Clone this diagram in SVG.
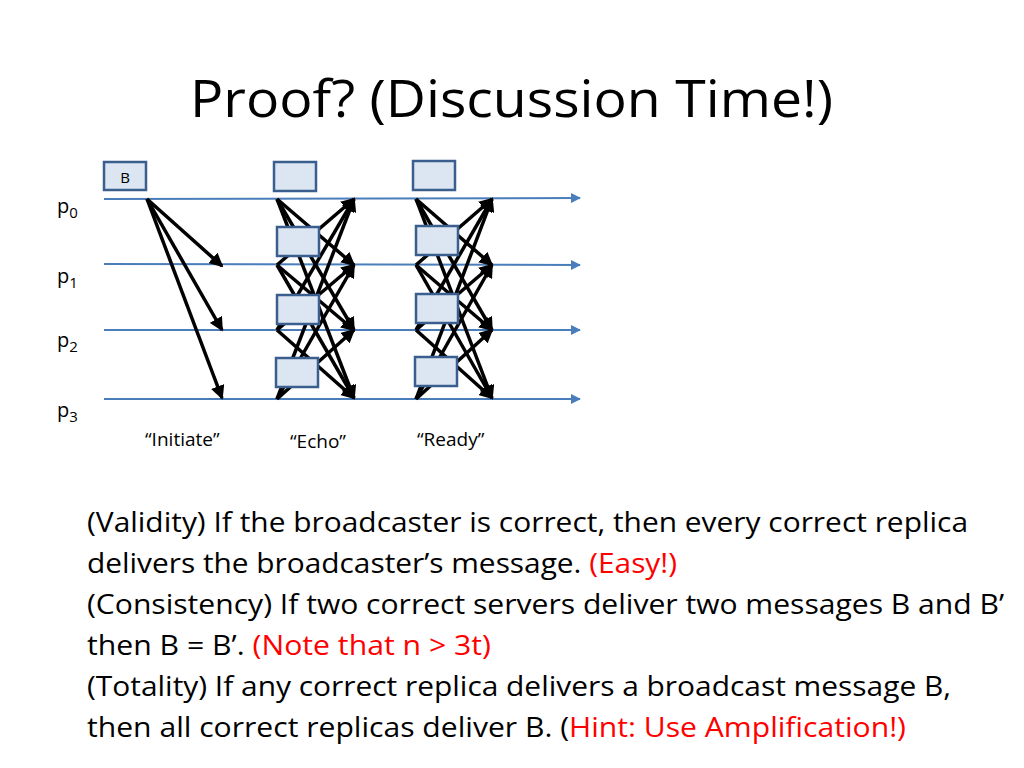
<svg xmlns="http://www.w3.org/2000/svg" width="1024" height="768" viewBox="0 0 1024 768">
<defs>
<marker id="ab" markerWidth="5" markerHeight="5" refX="4.5" refY="2.5" orient="auto" markerUnits="strokeWidth"><path d="M0,0 L5,2.5 L0,5 z" fill="#4a7ebb"/></marker>
<marker id="ak" markerWidth="4" markerHeight="4" refX="3.5" refY="2" orient="auto" markerUnits="strokeWidth"><path d="M0,0 L4,2 L0,4 z" fill="#000"/></marker>
</defs>
<style>
.t{font-family:"Open Sans","Liberation Sans",sans-serif}
.tl{stroke:#4a7ebb;stroke-width:2;marker-end:url(#ab)}
.m{stroke:#000;stroke-width:3.5;marker-end:url(#ak)}
.bx{fill:#dce6f2;stroke:#3a5f8f;stroke-width:2.5}
.b{font-family:"Open Sans","Liberation Sans",sans-serif;font-size:27px;fill:#000}
.r{fill:#ff0000}
</style>
<rect width="1024" height="768" fill="#fff"/>
<text class="t" x="190" y="117" font-size="52" textLength="643" lengthAdjust="spacingAndGlyphs">Proof? (Discussion Time!)</text>
<g id="labels" class="t" font-size="20">
<text x="57" y="213">p<tspan font-size="15" dy="5">0</tspan></text>
<text x="57" y="283">p<tspan font-size="15" dy="5">1</tspan></text>
<text x="57" y="347">p<tspan font-size="15" dy="5">2</tspan></text>
<text x="57" y="417">p<tspan font-size="15" dy="5">3</tspan></text>
<text x="145" y="446" font-size="19">“Initiate”</text>
<text x="290" y="448" font-size="19">“Echo”</text>
<text x="417" y="446" font-size="19">“Ready”</text>
</g>
<g id="timelines">
<line class="tl" x1="104" y1="199" x2="580" y2="198"/>
<line class="tl" x1="104" y1="264" x2="580" y2="265"/>
<line class="tl" x1="104" y1="330" x2="580" y2="330"/>
<line class="tl" x1="104" y1="399" x2="580" y2="399"/>
</g>
<g id="connectors">
<line class="m" x1="147" y1="199" x2="222" y2="266"/>
<line class="m" x1="147" y1="199" x2="222" y2="330"/>
<line class="m" x1="147" y1="199" x2="222" y2="398"/>
<g id="echo-msgs">
<line class="m" x1="277" y1="199" x2="354" y2="265"/><line class="m" x1="277" y1="199" x2="354" y2="330"/><line class="m" x1="277" y1="199" x2="354" y2="398"/>
<line class="m" x1="277" y1="265" x2="354" y2="199"/><line class="m" x1="277" y1="265" x2="354" y2="330"/><line class="m" x1="277" y1="265" x2="354" y2="398"/>
<line class="m" x1="277" y1="330" x2="354" y2="199"/><line class="m" x1="277" y1="330" x2="354" y2="265"/><line class="m" x1="277" y1="330" x2="354" y2="398"/>
<line class="m" x1="277" y1="399" x2="354" y2="199"/><line class="m" x1="277" y1="399" x2="354" y2="265"/><line class="m" x1="277" y1="399" x2="354" y2="330"/>
</g>
<g id="ready-msgs">
<line class="m" x1="416" y1="199" x2="492" y2="265"/><line class="m" x1="416" y1="199" x2="492" y2="330"/><line class="m" x1="416" y1="199" x2="492" y2="398"/>
<line class="m" x1="416" y1="265" x2="492" y2="199"/><line class="m" x1="416" y1="265" x2="492" y2="330"/><line class="m" x1="416" y1="265" x2="492" y2="398"/>
<line class="m" x1="416" y1="330" x2="492" y2="199"/><line class="m" x1="416" y1="330" x2="492" y2="265"/><line class="m" x1="416" y1="330" x2="492" y2="398"/>
<line class="m" x1="416" y1="399" x2="492" y2="199"/><line class="m" x1="416" y1="399" x2="492" y2="265"/><line class="m" x1="416" y1="399" x2="492" y2="330"/>
</g>
</g>
<g id="nodeB"><rect class="bx" x="104" y="162" width="42" height="28"/><text class="t" x="125" y="183" font-size="15" text-anchor="middle">B</text></g>
<g id="echo0"><rect class="bx" x="274" y="162" width="42" height="29"/></g>
<g id="echo1"><rect class="bx" x="277" y="227" width="42" height="29"/></g>
<g id="echo2"><rect class="bx" x="277" y="295" width="42" height="29"/></g>
<g id="echo3"><rect class="bx" x="276" y="358" width="42" height="29"/></g>
<g id="ready0"><rect class="bx" x="413" y="161" width="42" height="29"/></g>
<g id="ready1"><rect class="bx" x="416" y="226" width="42" height="29"/></g>
<g id="ready2"><rect class="bx" x="416" y="294" width="42" height="29"/></g>
<g id="ready3"><rect class="bx" x="415" y="357" width="42" height="29"/></g>
<g id="body">
<text class="b" x="87" y="532" textLength="881" lengthAdjust="spacingAndGlyphs">(Validity) If the broadcaster is correct, then every correct replica</text>
<text class="b" x="87" y="573" textLength="590" lengthAdjust="spacingAndGlyphs">delivers the broadcaster’s message. <tspan class="r">(Easy!)</tspan></text>
<text class="b" x="87" y="614" textLength="917" lengthAdjust="spacingAndGlyphs">(Consistency) If two correct servers deliver two messages B and B’</text>
<text class="b" x="87" y="655" textLength="404" lengthAdjust="spacingAndGlyphs">then B = B’. <tspan class="r">(Note that n &gt; 3t)</tspan></text>
<text class="b" x="87" y="696" textLength="864" lengthAdjust="spacingAndGlyphs">(Totality) If any correct replica delivers a broadcast message B,</text>
<text class="b" x="87" y="737" textLength="819" lengthAdjust="spacingAndGlyphs">then all correct replicas deliver B. (<tspan class="r">Hint: Use Amplification!)</tspan></text>
</g>
</svg>
